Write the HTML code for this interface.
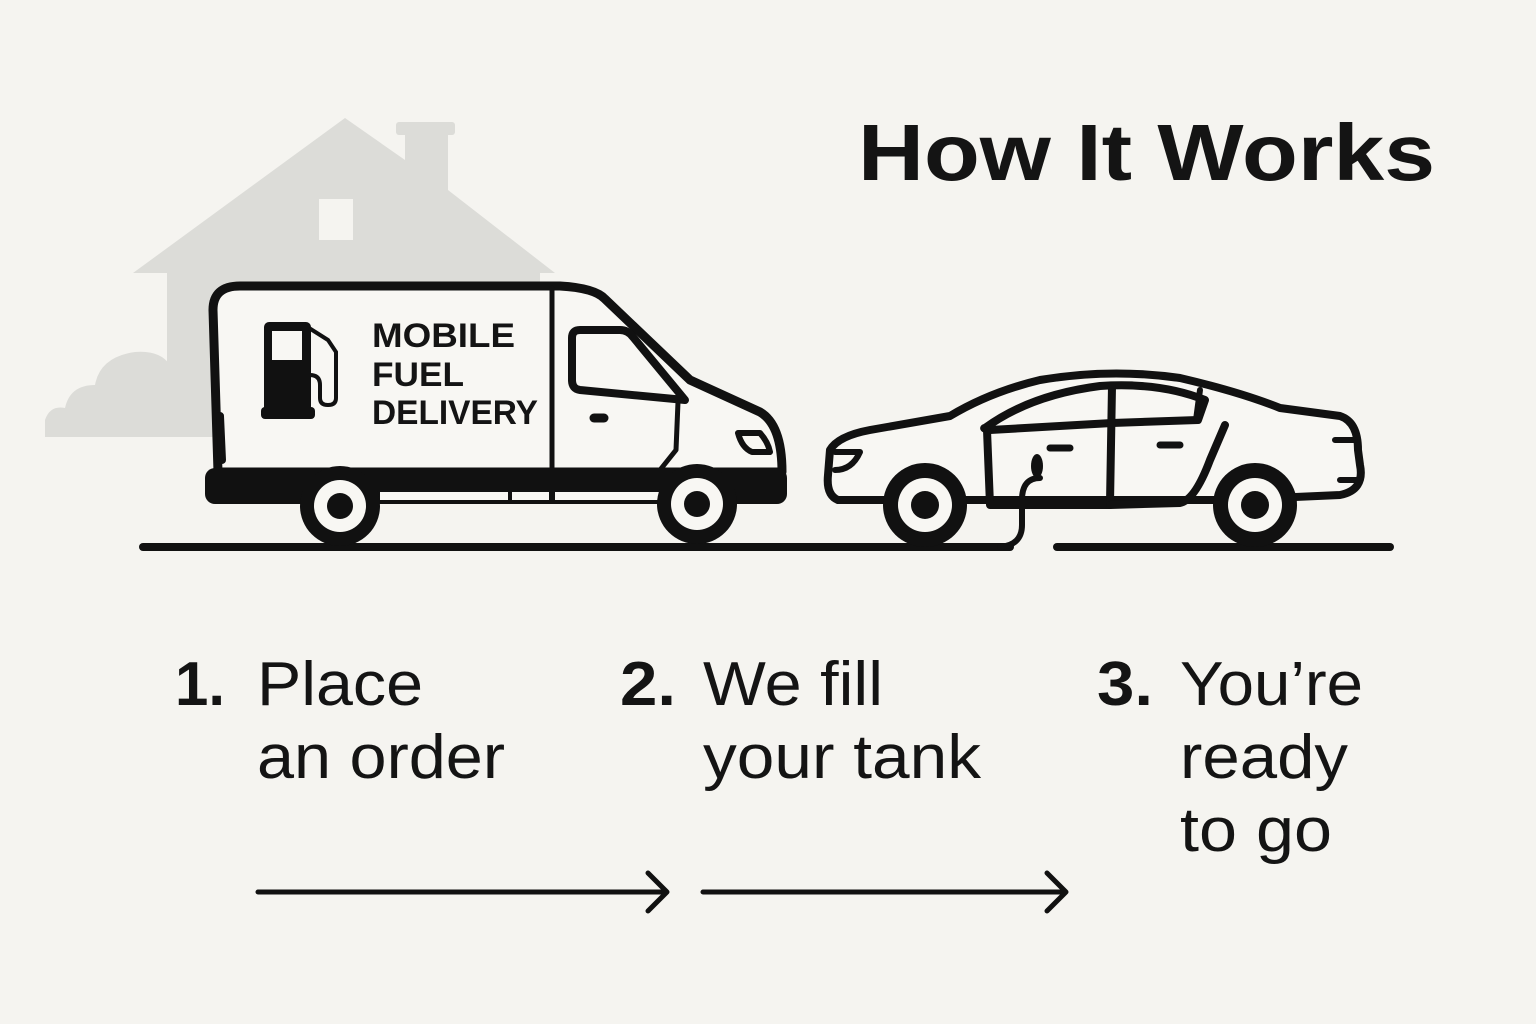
<!DOCTYPE html>
<html><head><meta charset="utf-8"><style>
html,body{margin:0;padding:0;background:#f5f4f0;}
svg{display:block}
text{font-family:"Liberation Sans","DejaVu Sans",sans-serif;fill:#141414}
</style></head><body>
<svg width="1536" height="1024" viewBox="0 0 1536 1024" xmlns="http://www.w3.org/2000/svg">
<rect width="1536" height="1024" fill="#f5f4f0"/>
<text x="858" y="180" font-size="80" font-weight="bold" textLength="577" lengthAdjust="spacingAndGlyphs">How It Works</text>
<text x="175" y="705" font-size="62" font-weight="bold" textLength="50" lengthAdjust="spacingAndGlyphs">1.</text>
<text x="257" y="705" font-size="62" textLength="166" lengthAdjust="spacingAndGlyphs">Place</text>
<text x="257" y="778" font-size="62" textLength="248" lengthAdjust="spacingAndGlyphs">an order</text>
<text x="620" y="705" font-size="62" font-weight="bold" textLength="56" lengthAdjust="spacingAndGlyphs">2.</text>
<text x="703" y="705" font-size="62" textLength="180" lengthAdjust="spacingAndGlyphs">We fill</text>
<text x="703" y="778" font-size="62" textLength="278" lengthAdjust="spacingAndGlyphs">your tank</text>
<text x="1097" y="705" font-size="62" font-weight="bold" textLength="56" lengthAdjust="spacingAndGlyphs">3.</text>
<text x="1180" y="705" font-size="62" textLength="183" lengthAdjust="spacingAndGlyphs">You’re</text>
<text x="1180" y="778" font-size="62" textLength="168" lengthAdjust="spacingAndGlyphs">ready</text>
<text x="1180" y="851" font-size="62" textLength="152" lengthAdjust="spacingAndGlyphs">to go</text>
<g stroke="#111" stroke-width="5" fill="none" stroke-linecap="round" stroke-linejoin="round">
<path d="M258,892 L666,892 M648,873 L667,892 L648,911"/>
<path d="M703,892 L1065,892 M1047,873 L1066,892 L1047,911"/>
</g>
<g fill="#dcdcd8">
<polygon points="345,118 133,273 167,273 167,437 540,437 540,273 555,273 448,190 448,123 405,123 405,160"/>
<rect x="396" y="122" width="59" height="13" rx="3"/>
<path d="M45,437 L45,420 Q50,405 65,408 Q70,385 95,385 Q100,357 135,352 Q160,350 170,365 L170,437 Z"/>
</g>
<rect x="319" y="199" width="34" height="41" fill="#f5f4f0"/>
<line x1="143" y1="547" x2="1010" y2="547" stroke="#111" stroke-width="8" stroke-linecap="round"/>
<line x1="1057" y1="547" x2="1390" y2="547" stroke="#111" stroke-width="8" stroke-linecap="round"/>
<g stroke="#111" stroke-width="9" fill="none" stroke-linejoin="round" stroke-linecap="round">
<path d="M218,472 L213,310 Q213,286 240,286 L560,286 Q595,288 605,299 L690,380 L760,412 Q782,425 782,472 Z" fill="#f8f7f3"/>
<line x1="552" y1="288" x2="552" y2="500" stroke-width="5"/>
<path d="M572,338 Q572,330 580,330 L620,330 Q628,330 633,337 L685,400 L580,390 Q572,389 572,380 Z" stroke-width="8"/>
<path d="M678,402 L676,450 L660,470" stroke-width="5"/>
<path d="M738,433 L760,433 Q768,442 770,452 L752,452 Q742,448 738,433 Z" stroke-width="6"/>
<line x1="594" y1="418" x2="604" y2="418" stroke-width="9"/>
<path d="M220,416 L222,460" stroke-width="8"/>
</g>
<rect x="205" y="468" width="582" height="36" rx="10" fill="#111"/>
<rect x="380" y="492" width="295" height="8" fill="#f8f7f3"/>
<rect x="549" y="490" width="6" height="12" fill="#111"/>
<rect x="508" y="490" width="4" height="12" fill="#111"/>
<circle cx="340" cy="506" r="40" fill="#111"/>
<circle cx="340" cy="506" r="26" fill="#f8f7f3"/>
<circle cx="340" cy="506" r="13" fill="#111"/>
<circle cx="697" cy="504" r="40" fill="#111"/>
<circle cx="697" cy="504" r="26" fill="#f8f7f3"/>
<circle cx="697" cy="504" r="13" fill="#111"/>
<rect x="264" y="322" width="47" height="92" rx="5" fill="#111"/>
<rect x="272" y="331" width="30" height="29" fill="#f8f7f3"/>
<rect x="261" y="407" width="54" height="12" rx="4" fill="#111"/>
<path d="M310,375 Q320,375 320,385 L320,398 Q320,405 328,405 Q336,405 336,398 L336,352 L328,340 L309,328" stroke="#111" stroke-width="4" fill="none"/>
<text x="372" y="347" font-size="34" font-weight="bold" textLength="143" lengthAdjust="spacingAndGlyphs">MOBILE</text>
<text x="372" y="386" font-size="34" font-weight="bold" textLength="92" lengthAdjust="spacingAndGlyphs">FUEL</text>
<text x="372" y="424" font-size="34" font-weight="bold" textLength="166" lengthAdjust="spacingAndGlyphs">DELIVERY</text>
<g stroke="#111" stroke-width="8" fill="none" stroke-linejoin="round" stroke-linecap="round">
<path d="M838,500 Q826,495 828,475 L830,450 Q838,436 870,430 L950,416 Q990,392 1040,380 Q1110,368 1180,378 Q1240,392 1280,408 L1340,416 Q1358,422 1358,450 L1360,465 Q1365,490 1340,495 L1230,500 L838,500 Z" fill="#f8f7f3"/>
<path d="M985,428 Q1030,395 1100,386 Q1160,382 1205,400 L1198,420 L1112,423 L990,430 Q982,428 985,428 Z"/>
<line x1="1112" y1="386" x2="1110" y2="503"/>
<line x1="1200" y1="390" x2="1196" y2="420" stroke-width="6"/>
<path d="M987,430 L990,505 L1110,505"/>
<path d="M1110,505 L1180,503 Q1195,500 1210,460 L1225,425"/>
<line x1="1050" y1="448" x2="1070" y2="448" stroke-width="7"/>
<line x1="1160" y1="445" x2="1180" y2="445" stroke-width="7"/>
<path d="M1040,478 Q1022,478 1022,500 L1022,525 Q1022,545 1000,547" stroke-width="6"/>
<path d="M835,452 L860,452 Q852,470 835,470" stroke-width="6"/>
<path d="M1335,440 L1355,440 M1340,480 L1358,480" stroke-width="6"/>
</g>
<ellipse cx="1037" cy="466" rx="6" ry="12" fill="#111"/>
<circle cx="925" cy="505" r="42" fill="#111"/>
<circle cx="925" cy="505" r="27" fill="#f8f7f3"/>
<circle cx="925" cy="505" r="14" fill="#111"/>
<circle cx="1255" cy="505" r="42" fill="#111"/>
<circle cx="1255" cy="505" r="27" fill="#f8f7f3"/>
<circle cx="1255" cy="505" r="14" fill="#111"/>
</svg>
</body></html>
